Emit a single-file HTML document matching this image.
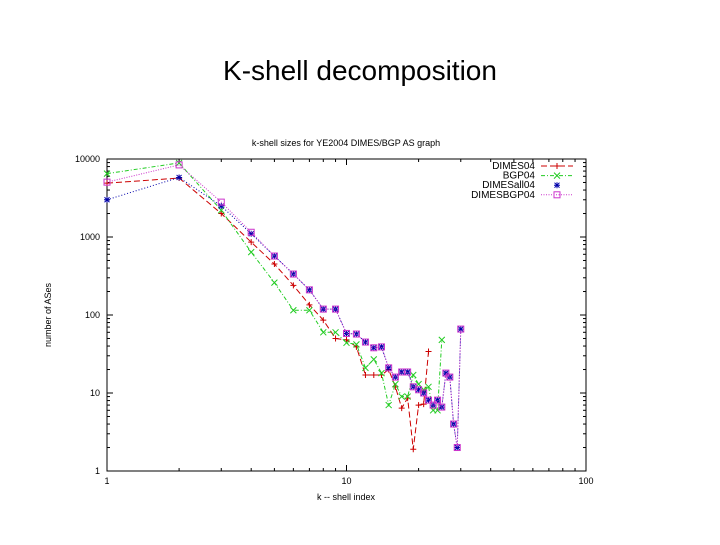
<!DOCTYPE html>
<html><head><meta charset="utf-8"><style>
body{margin:0;background:#fff;width:720px;height:540px;overflow:hidden;font-family:"Liberation Sans",sans-serif}
</style></head><body>
<svg id="c" width="720" height="540" xmlns="http://www.w3.org/2000/svg">
<text x="360" y="80" text-anchor="middle" font-size="28">K-shell decomposition</text>
<text x="346" y="146" text-anchor="middle" font-size="9">k-shell sizes for YE2004 DIMES/BGP AS graph</text>
<text transform="translate(51,315) rotate(-90)" text-anchor="middle" font-size="9">number of ASes</text>
<text x="346" y="500" text-anchor="middle" font-size="9">k -- shell index</text>
<rect x="107" y="159" width="479" height="312" fill="none" stroke="#000" stroke-width="1"/>
<g id="ticks"></g><g id="series"></g><g id="legend"></g>
</svg>
<script>
const ks=[1,2,3,4,5,6,7,8,9,10,11,12,13,14,15,16,17,18,19,20,21,22,23,24,25,26,27,28,29,30];
const dimes04=[4900,5700,2000,860,450,240,135,86,50,48,39,17,17,17,20,12,6.4,8.6,1.9,7,7.2,34];
const bgp04=[6500,8900,2200,640,260,115,115,60,60,44,42,21,27,18,7,13,9,9,17,13,11,12,6,6,48];
const dimesall04=[3000,5800,2500,1100,570,335,210,119,119,58,57,45,38,39,21,16,18.6,18.6,12,11,10,8.1,7,8.1,6.6,18,16,4,2,66];
const dimesbgp04=[5050,8400,2800,1150,570,335,210,119,119,58,57,45,38,39,21,16,18.6,18.6,12,11,10,8.1,7,8.1,6.6,18,16,4,2,66];
const yTicks=[1,10,100,1000,10000];
const yTickLabels=["1","10","100","1000","10000"];
const xTicks=[1,10,100];
const xTickLabels=["1","10","100"];
const NS="http://www.w3.org/2000/svg";
const X=v=>107+239.5*Math.log10(v);
const Y=v=>471-78*Math.log10(v);
function mk(tag,at,parent){const e=document.createElementNS(NS,tag);for(const k in at)e.setAttribute(k,at[k]);parent.appendChild(e);return e;}
const tg=document.getElementById('ticks');
yTicks.forEach((t,i)=>{
  let l=mk('text',{x:100,y:Y(t)+3,'text-anchor':'end','font-size':9},tg);l.textContent=yTickLabels[i];
  
  
  if(i<yTicks.length-1)for(let m=1;m<10;m++){const yy=Y(t*m);const w=m==1?6:3;
    mk('line',{x1:107,x2:107+w,y1:yy,y2:yy,stroke:'#000'},tg);mk('line',{x1:586,x2:586-w,y1:yy,y2:yy,stroke:'#000'},tg);}
});
xTicks.forEach((t,i)=>{
  let l=mk('text',{x:X(t),y:484,'text-anchor':'middle','font-size':9},tg);l.textContent=xTickLabels[i];
  
  
  if(i<xTicks.length-1)for(let m=1;m<10;m++){const xx=X(t*m);const h=m==1?6:3;
    mk('line',{x1:xx,x2:xx,y1:471,y2:471-h,stroke:'#000'},tg);mk('line',{x1:xx,x2:xx,y1:159,y2:159+h,stroke:'#000'},tg);}
});
const sg=document.getElementById('series');
function marker(type,x,y,c,g){
  if(type=='plus'){mk('path',{d:`M${x-3},${y}h6M${x},${y-3}v6`,stroke:c,fill:'none'},g);}
  else if(type=='x'){mk('path',{d:`M${x-3},${y-3}l6,6M${x+3},${y-3}l-6,6`,stroke:c,fill:'none'},g);}
  else if(type=='star'){mk('path',{d:`M${x-3},${y}h6M${x},${y-3}v6M${x-2.5},${y-2.5}l5,5M${x+2.5},${y-2.5}l-5,5`,stroke:c,fill:'none'},g);}
  else {mk('rect',{x:x-3,y:y-3,width:6,height:6,stroke:c,fill:'none'},g);}
}
const series=[
 {name:'dimes04',vals:dimes04,c:'#cc0000',dash:'6,3',m:'plus'},
 {name:'bgp04',vals:bgp04,c:'#22cc22',dash:'4,2,1,2',m:'x'},
 {name:'dimesall04',vals:dimesall04,c:'#0000aa',dash:'1,2',m:'star'},
 {name:'dimesbgp04',vals:dimesbgp04,c:'#cc33cc',dash:'1,1.5',m:'sq'}];
series.forEach(s=>{
  const g=mk('g',{},sg);
  
  
  const pts=s.vals.map((v,i)=>[X(ks[i]),Y(v)]);
  mk('polyline',{points:pts.map(p=>p.join(',')).join(' '),fill:'none',stroke:s.c,'stroke-dasharray':s.dash,'stroke-width':1},g);
  pts.forEach(p=>marker(s.m,p[0],p[1],s.c,g));
});
const lg=document.getElementById('legend');
const labels=['DIMES04','BGP04','DIMESall04','DIMESBGP04'];
series.forEach((s,i)=>{
  const y=166+9.6*i;
  const g=mk('g',{},lg);
  
  
  const t=mk('text',{x:535,y:y+3,'text-anchor':'end','font-size':10},g);t.textContent=labels[i];
  if(i!=2)mk('line',{x1:541,x2:573,y1:y,y2:y,stroke:s.c,'stroke-dasharray':s.dash},g);
  marker(s.m,557,y,s.c,g);
});
</script>
</body></html>
